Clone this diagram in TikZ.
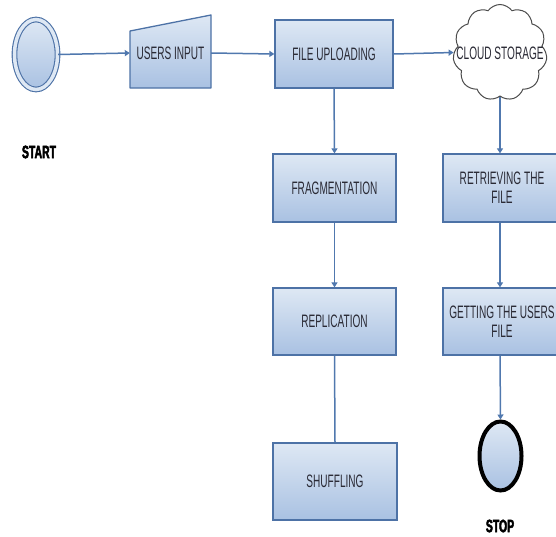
\documentclass[tikz,border=0pt]{standalone}
\usepackage{fontspec}
\setmainfont{Liberation Sans}
\newfontfamily\narrowfont[FakeStretch=0.56]{Liberation Sans}
\newfontfamily\labelfont[FakeStretch=0.58,FakeBold=2.5]{Liberation Sans}
\usetikzlibrary{arrows.meta,shapes.symbols,shapes.geometric}
\definecolor{boxtop}{HTML}{DEE8F4}
\definecolor{boxbot}{HTML}{A9C1E2}
\definecolor{boxborder}{HTML}{4D72A6}
\definecolor{arrowc}{HTML}{5078AE}
\definecolor{textc}{HTML}{2A2A35}
\tikzset{
  boxfill/.style={top color=boxtop, bottom color=boxbot},
  stepbox/.style={draw=boxborder, line width=1.3pt, boxfill, inner sep=0pt,
    align=center, text=textc, font=\narrowfont\fontsize{18}{19}\selectfont},
  boxtext/.style={align=center, text=textc, font=\narrowfont\fontsize{18}{19}\selectfont},
  flow/.style={draw=arrowc, line width=1.5pt, -{Triangle[width=6pt,length=5pt]}},
  plainflow/.style={draw=arrowc, line width=1.5pt},
  termlabel/.style={text=black, font=\labelfont\bfseries\fontsize{18}{19}\selectfont}
}
\begin{document}
\begin{tikzpicture}[x=1pt,y=-1pt]
\useasboundingbox (0,0) rectangle (556,536);
% start
\node[ellipse, draw=boxborder, line width=1.1pt, double=boxtop, double distance=3.5pt,
      boxfill, minimum width=43pt, minimum height=70pt, inner sep=0pt] (start) at (36,54.5) {};
\node[termlabel] (startlbl) at (39,152) {START};
% users input (manual input shape)
\path[draw=boxborder, line width=1.3pt, boxfill, line join=round]
  (130,88) -- (211,88) -- (211,15) -- (130,31) -- cycle;
\node[boxtext, minimum width=81pt, minimum height=73pt, inner sep=0pt] (ui) at (170.5,53) {USERS INPUT};
% main column
\node[stepbox, minimum width=118pt, minimum height=68pt] (fu) at (334,54) {FILE UPLOADING};
\node[stepbox, minimum width=123pt, minimum height=68pt] (frag) at (334.5,188) {FRAGMENTATION};
\node[stepbox, minimum width=123pt, minimum height=67pt] (repl) at (334.5,321.5) {REPLICATION};
\node[stepbox, minimum width=124pt, minimum height=77pt] (shuf) at (335,481.5) {SHUFFLING};
% cloud column
\node[cloud, cloud puffs=11, cloud puff arc=110, draw=black!70, line width=1pt, fill=white,
      minimum width=94pt, minimum height=96pt, inner sep=0pt] (cloud) at (500,52.5) {};
\node[boxtext] (cloudtxt) at (500,53) {CLOUD STORAGE};
\node[stepbox, minimum width=118pt, minimum height=68pt] (retr) at (502,188) {RETRIEVING THE\\FILE};
\node[stepbox, minimum width=118pt, minimum height=67pt] (get) at (502,321.5) {GETTING THE USERS\\FILE};
\node[ellipse, draw=black, line width=4pt, boxfill, minimum width=42pt, minimum height=69pt,
      inner sep=0pt] (stop) at (500.5,456) {};
\node[termlabel] (stoplbl) at (500,526) {STOP};
% connectors
\draw[flow] (start.east) -- (ui.west);
\draw[flow] (ui.east) -- (fu.west);
\draw[flow] (fu.east) -- (cloud.west);
\draw[flow] (fu.south) -- (frag.north);
\draw[flow] (frag.south) -- (repl.north);
\draw[plainflow] (repl.south) -- (shuf.north);
\draw[flow] (cloud.south) -- (cloud.south |- retr.north);
\draw[flow] (cloud.south |- retr.south) -- (cloud.south |- get.north);
\draw[flow] (cloud.south |- get.south) -- (stop.north);
\end{tikzpicture}
\end{document}
